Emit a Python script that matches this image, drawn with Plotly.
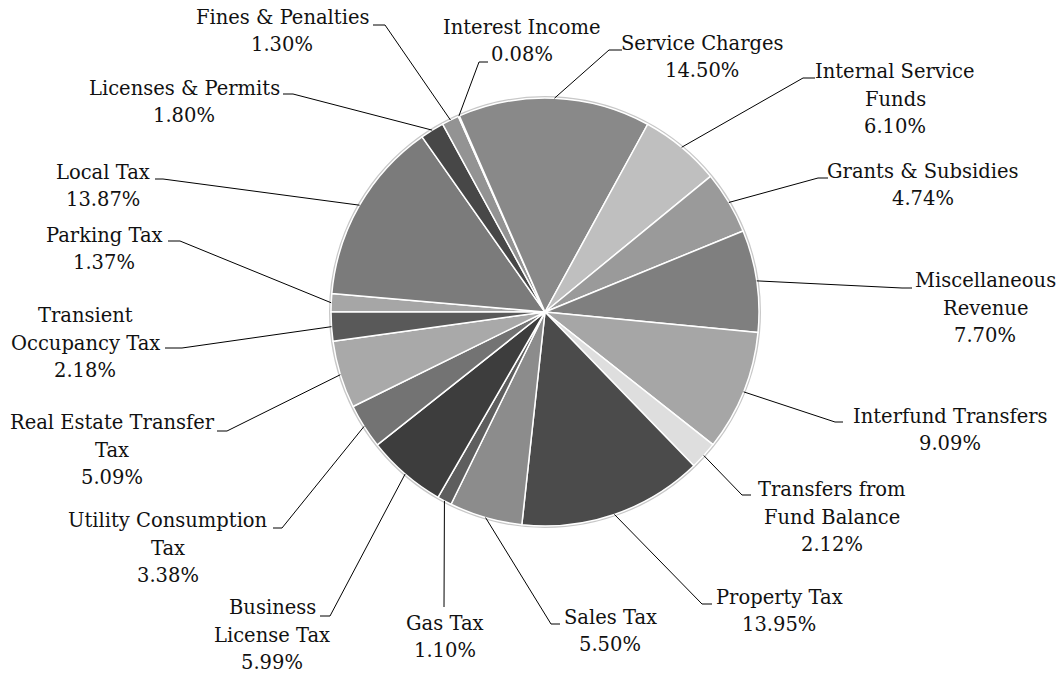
import math
import plotly.graph_objects as go

# Revenue shares (%), clockwise from 9 o'clock, as in the source chart
categorias = ['Parking Tax', 'Local Tax', 'Licenses & Permits', 'Fines & Penalties',
              'Interest Income', 'Service Charges', 'Internal Service Funds',
              'Grants & Subsidies', 'Miscellaneous Revenue', 'Interfund Transfers',
              'Transfers from Fund Balance', 'Property Tax', 'Sales Tax', 'Gas Tax',
              'Business License Tax', 'Utility Consumption Tax',
              'Real Estate Transfer Tax', 'Transient Occupancy Tax']
valores = [1.37, 13.87, 1.80, 1.30, 0.08, 14.50, 6.10, 4.74, 7.70, 9.09,
           2.12, 13.95, 5.50, 1.10, 5.99, 3.38, 5.09, 2.18]
# how each label is broken into lines
rotulos = [['Parking Tax'], ['Local Tax'], ['Licenses & Permits'], ['Fines & Penalties'],
           ['Interest Income'], ['Service Charges'], ['Internal Service', 'Funds'],
           ['Grants & Subsidies'], ['Miscellaneous', 'Revenue'], ['Interfund Transfers'],
           ['Transfers from', 'Fund Balance'], ['Property Tax'], ['Sales Tax'], ['Gas Tax'],
           ['Business', 'License Tax'], ['Utility Consumption', 'Tax'],
           ['Real Estate Transfer', 'Tax'], ['Transient', 'Occupancy Tax']]

cores = ['#a6a6a6', '#7b7b7b', '#474747', '#939393', '#c8c8c8', '#898989',
         '#bfbfbf', '#9a9a9a', '#7f7f7f', '#a6a6a6', '#dedede', '#4b4b4b',
         '#8c8c8c', '#5e5e5e', '#3d3d3d', '#737373', '#a9a9a9', '#595959']

W, H = 1062, 677
CX, CY, R = 545, 312, 214
ROT = -90
LINHA = 27.5

# label placement (pixels): text centre, elbow, end of the short tick
posicoes = [
    ((104, 249), (180, 241), (168, 241)),
    ((103, 186), (163, 179), (155, 179)),
    ((184, 102), (293, 94), (283, 94)),
    ((282, 31), (385, 25), (373, 25)),
    ((522, 41), (479, 62), (488, 62)),
    ((702, 57), (609, 50), (622, 50)),
    ((895, 99), (803, 78), (815, 78)),
    ((923, 185), (818, 178), (828, 178)),
    ((985, 308), (902, 288), (912, 288)),
    ((950, 430), (835, 422), (843, 422)),
    ((832, 517), (742, 495), (751, 495)),
    ((779, 611), (702, 604), (712, 604)),
    ((610, 631), (551, 624), (560, 624)),
    ((445, 637), (444, 607), (444, 607)),
    ((272, 635), (330, 616), (320, 616)),
    ((168, 548), (282, 528), (273, 528)),
    ((112, 450), (227, 431), (217, 431)),
    ((85, 343), (182, 348), (165, 348)),
]


def px(x, y):
    return x / W, 1 - y / H


dx0, dy1 = px(CX - R, CY - R)
dx1, dy0 = px(CX + R, CY + R)
fig = go.Figure(go.Pie(
    labels=categorias, values=valores, sort=False, direction='clockwise',
    rotation=ROT, textinfo='none', hoverinfo='label+percent',
    marker=dict(colors=cores, line=dict(color='white', width=1.5)),
    domain=dict(x=[dx0, dx1], y=[dy0, dy1]),
))

total = sum(valores)
acum = 0
anotacoes = []
formas = []
for rot, v, (centro, cotovelo, fim) in zip(rotulos, valores, posicoes):
    ang = math.radians(ROT + 360 * (acum + v / 2) / total)
    acum += v
    bx, by = px(CX + R * math.sin(ang), CY - R * math.cos(ang))
    ex, ey = px(*cotovelo)
    fx, fy = px(*fim)
    formas.append(dict(type='path', xref='paper', yref='paper',
                       path=f'M {bx} {by} L {ex} {ey} L {fx} {fy}',
                       line=dict(color='black', width=1)))
    linhas = rot + [f'{v:.2f}%']
    n = len(linhas)
    for i, t in enumerate(linhas):
        tx, ty = px(centro[0], centro[1] + (i - (n - 1) / 2) * LINHA)
        anotacoes.append(dict(x=tx, y=ty, xref='paper', yref='paper', showarrow=False,
                              xanchor='center', yanchor='middle', text=t))

# soft outline round the pie
x0, y0 = px(CX - R - 1, CY - R - 1)
x1, y1 = px(CX + R + 1, CY + R + 1)
formas.append(dict(type='circle', xref='paper', yref='paper', layer='below',
                   x0=x0, y0=y1, x1=x1, y1=y0, line=dict(color='#c8c8c8', width=2)))

fig.update_layout(
    width=W, height=H, showlegend=False,
    margin=dict(l=0, r=0, t=0, b=0),
    paper_bgcolor='white', plot_bgcolor='white',
    font=dict(family='DejaVu Serif', size=19.5, color='#111111'),
    annotations=anotacoes, shapes=formas,
)

# the page body has a default 8px margin; drop it so the figure fills the window
fig.write_html('out.html', config={'displayModeBar': False},
               post_script="document.body.style.margin='0';")
